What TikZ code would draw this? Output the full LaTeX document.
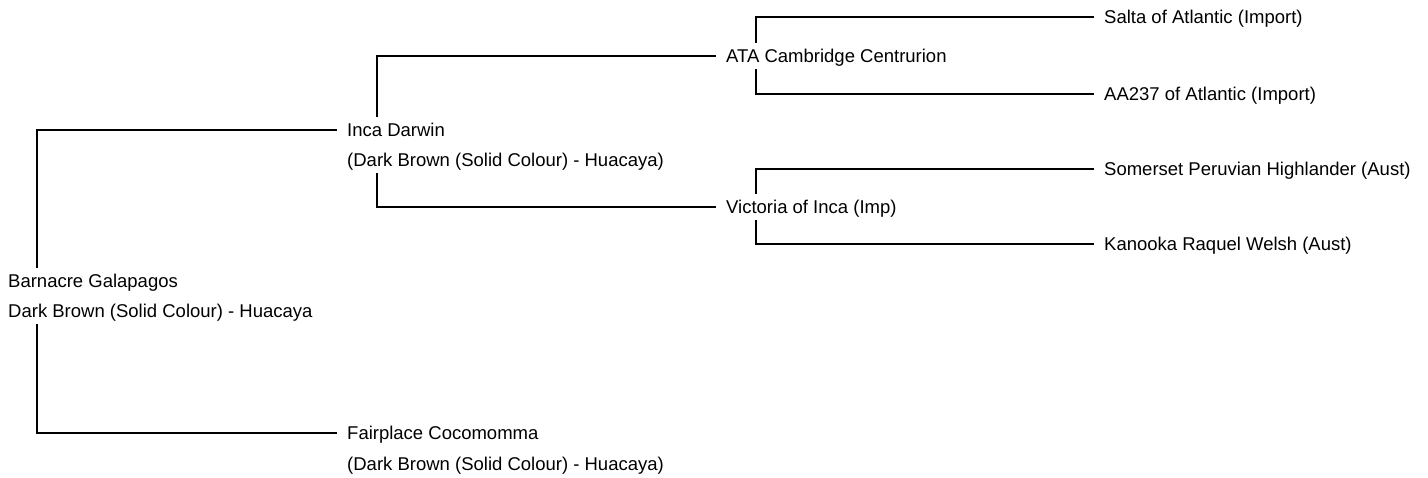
\documentclass[tikz,border=0pt]{standalone}
\usepackage{fontspec}
\setmainfont{Liberation Sans}
\begin{document}
\begin{tikzpicture}[x=1pt,y=1pt,
  lbl/.style={anchor=west,inner xsep=0pt,inner ysep=0pt,text height=13.2pt,text depth=0pt,minimum height=26pt,font=\fontsize{18.5}{22}\selectfont},
  conn/.style={line width=1.3pt,shorten >=10pt}]
\useasboundingbox (0,0) rectangle (1428,-478);
% nodes
\node[lbl] (root) at (8,-281) {Barnacre Galapagos};
\node[lbl] (rootsub) at (8,-311) {Dark Brown (Solid Colour) - Huacaya};
\node[lbl] (inca) at (347,-130) {Inca Darwin};
\node[lbl] (incasub) at (347,-160) {(Dark Brown (Solid Colour) - Huacaya)};
\node[lbl] (fair) at (347,-433) {Fairplace Cocomomma};
\node[lbl] (fairsub) at (347,-464) {(Dark Brown (Solid Colour) - Huacaya)};
\node[lbl] (ata) at (726,-56) {ATA Cambridge Centrurion};
\node[lbl] (vic) at (726,-207) {Victoria of Inca (Imp)};
\node[lbl] (salta) at (1104,-17) {Salta of Atlantic (Import)};
\node[lbl] (aa) at (1104,-94) {AA237 of Atlantic (Import)};
\node[lbl] (som) at (1104,-169) {Somerset Peruvian Highlander (Aust)};
\node[lbl] (kan) at (1104,-244) {Kanooka Raquel Welsh (Aust)};
% connectors
\draw[conn] ([xshift=29pt]root.north west) |- (inca.west);
\draw[conn] ([xshift=29pt]rootsub.south west) |- (fair.west);
\draw[conn] ([xshift=30pt]inca.north west) |- (ata.west);
\draw[conn] ([xshift=30pt]incasub.south west) |- (vic.west);
\draw[conn] ([xshift=30pt]ata.north west) |- (salta.west);
\draw[conn] ([xshift=30pt]ata.south west) |- (aa.west);
\draw[conn] ([xshift=30pt]vic.north west) |- (som.west);
\draw[conn] ([xshift=30pt]vic.south west) |- (kan.west);
\end{tikzpicture}
\end{document}
